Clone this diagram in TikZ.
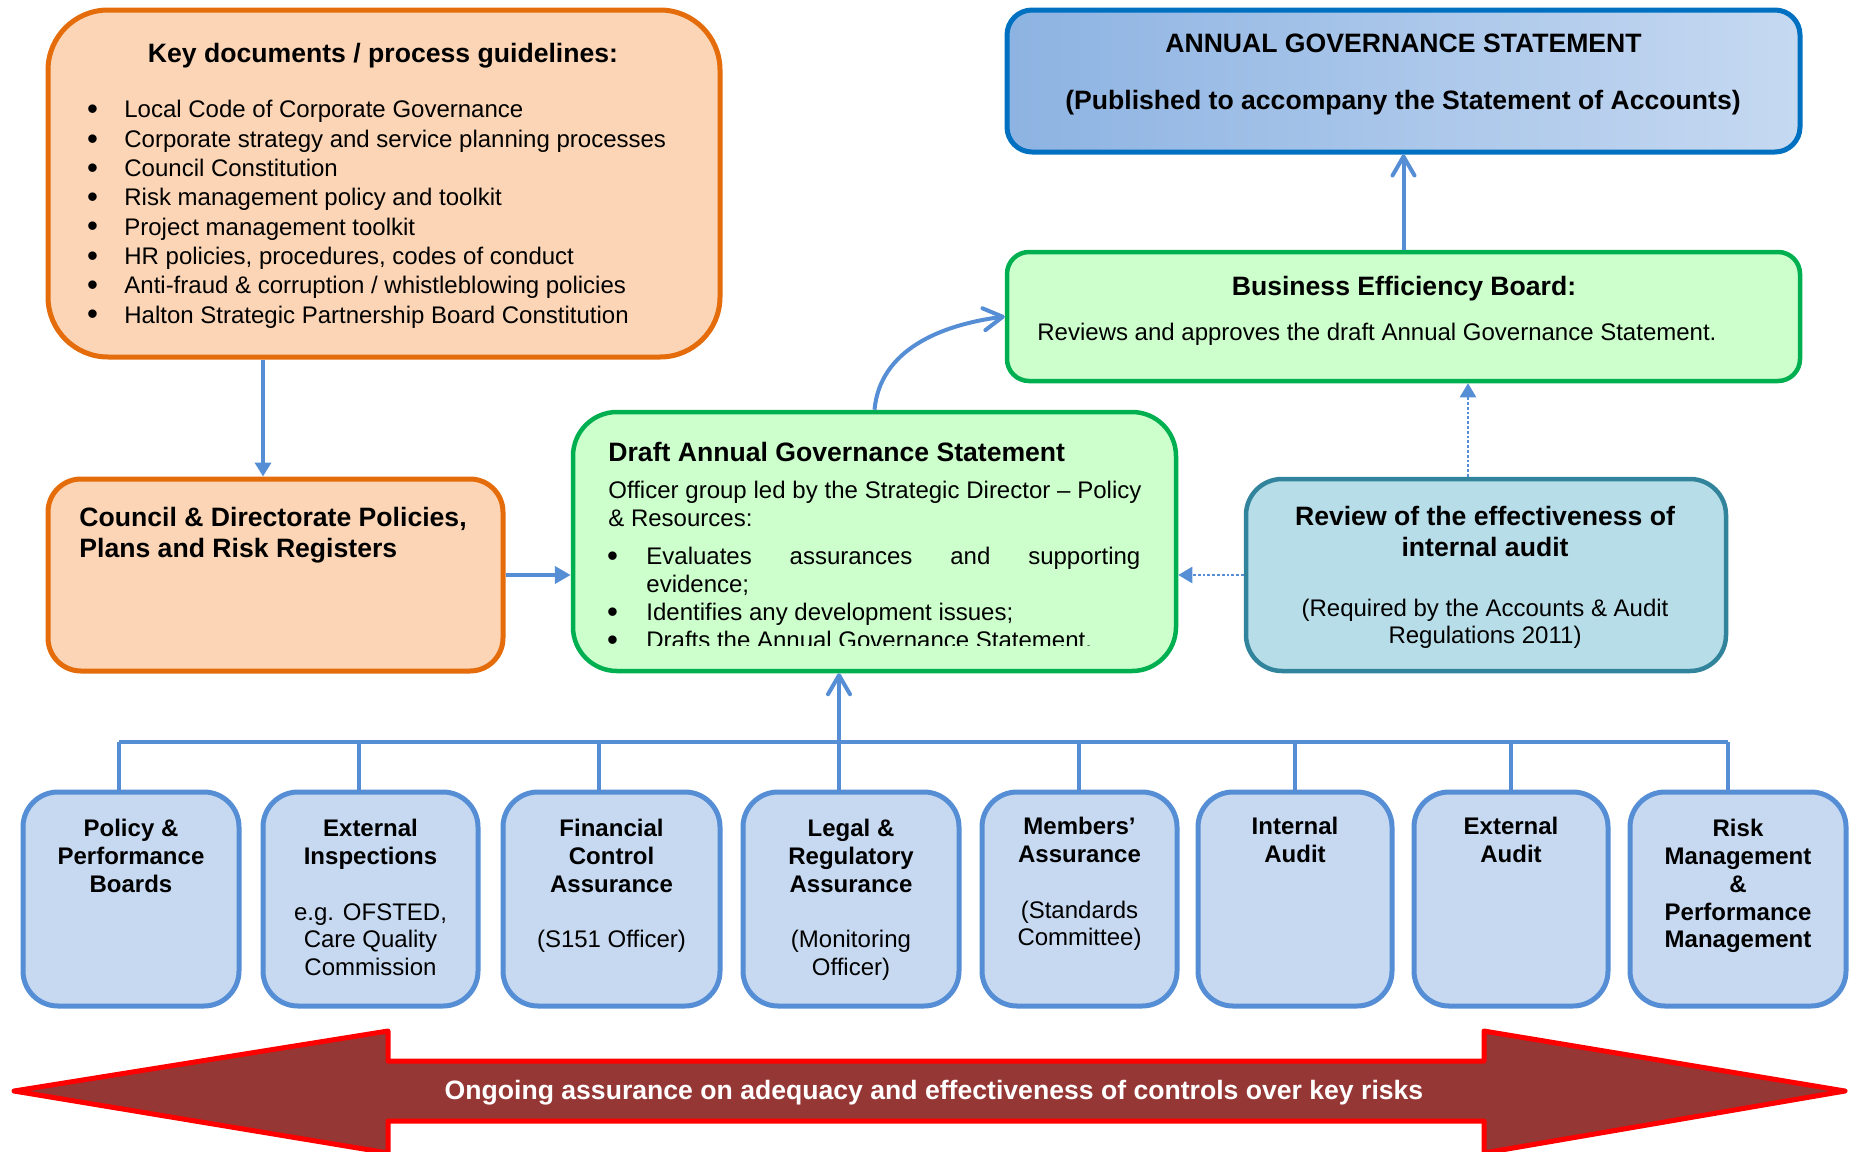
\documentclass[tikz,border=0pt]{standalone}
\usepackage{fontspec}
\setmainfont{Liberation Sans}
\usetikzlibrary{arrows.meta}
\definecolor{connblue}{HTML}{558ED5}
\definecolor{orgline}{HTML}{E46C0A}
\definecolor{orgfill}{HTML}{FBD5B5}
\definecolor{grnline}{HTML}{00B050}
\definecolor{grnfill}{HTML}{CCFFCC}
\definecolor{agsline}{HTML}{0070C0}
\definecolor{agsleft}{HTML}{8DB3E2}
\definecolor{agsright}{HTML}{C6D9F1}
\definecolor{revline}{HTML}{31849B}
\definecolor{revfill}{HTML}{B7DDE8}
\definecolor{botfill}{HTML}{C6D9F1}
\definecolor{arrfill}{HTML}{953735}
\definecolor{arrline}{HTML}{FF0000}
\newcommand\mybul[1]{\makebox[#1][l]{\hspace*{-0.6pt}\raisebox{-0.9pt}{\scalebox{1.3}{\textbullet}}}}
\newcommand\tp{\rule{0pt}{12pt}}
\begin{document}
\begin{tikzpicture}[x=0.5pt,y=-0.5pt,
  orangebox/.style={draw=orgline, fill=orgfill, line width=2.5pt, inner sep=0pt},
  greenbox/.style={draw=grnline, fill=grnfill, line width=2.25pt, inner sep=0pt},
  agsbox/.style={draw=agsline, left color=agsleft, right color=agsright, line width=2.5pt, inner sep=0pt},
  revbox/.style={draw=revline, fill=revfill, line width=2.25pt, inner sep=0pt},
  botbox/.style={draw=connblue, fill=botfill, line width=2.5pt, inner sep=0pt, minimum height=107pt, rounded corners=17.5pt},
  txt/.style={inner sep=0pt, font=\fontsize{12}{14}\selectfont},
  hd/.style={inner sep=0pt, font=\fontsize{13.3}{15.5}\selectfont\bfseries},
  bottxt/.style={txt, anchor=north, align=center, font=\fontsize{12}{13.85}\selectfont},
  link/.style={draw=connblue, line width=2pt},
  dotlink/.style={draw=connblue, line width=1.2pt, dash pattern=on 1.4pt off 1pt},
  barb/.style={-{Straight Barb[round,length=9.5pt,width=11pt]}},
  tri/.style={-{Triangle[length=7pt,width=8pt]}}
]
\useasboundingbox (0,0) rectangle (1851,1151);
\clip (0,0) rectangle (1851,1151);

% ---------- boxes ----------
\node[orangebox, minimum width=336pt, minimum height=173.5pt, rounded corners=30pt] (keydocs) at (384,183.5) {};
\node[agsbox, minimum width=396.5pt, minimum height=71pt, rounded corners=12.5pt] (ags) at (1403.5,81) {};
\node[greenbox, minimum width=396.5pt, minimum height=64.5pt, rounded corners=11pt] (beb) at (1403.5,316.5) {};
\node[greenbox, minimum width=301.5pt, minimum height=129.5pt, rounded corners=22pt] (draft) at (874.5,541.5) {};
\node[orangebox, minimum width=227.5pt, minimum height=96pt, rounded corners=16.5pt] (council) at (275.5,575) {};
\node[revbox, minimum width=240pt, minimum height=96pt, rounded corners=18pt] (review) at (1486,575) {};

\node[botbox, minimum width=108pt] (b1) at (131,899) {};
\node[botbox, minimum width=107.5pt] (b2) at (370.5,899) {};
\node[botbox, minimum width=108.5pt] (b3) at (611.5,899) {};
\node[botbox, minimum width=108pt] (b4) at (851,899) {};
\node[botbox, minimum width=97.5pt] (b5) at (1079.5,899) {};
\node[botbox, minimum width=97pt] (b6) at (1295,899) {};
\node[botbox, minimum width=97pt] (b7) at (1511,899) {};
\node[botbox, minimum width=108pt] (b8) at (1738,899) {};

% ---------- double arrow ----------
\draw[fill=arrfill, draw=arrline, line width=2.5pt, line join=round]
  (14,1091) -- (388,1031) -- (388,1061) -- (1484,1061) -- (1484,1031) -- (1845,1091)
  -- (1484,1153) -- (1484,1121) -- (388,1121) -- (388,1153) -- cycle;
\node[hd, anchor=north, text=white] (arrtext) at (934,1075.5) {\tp Ongoing assurance on adequacy and effectiveness of controls over key risks};

% ---------- texts ----------
\node[hd, anchor=north] (kdtitle) at (383,38.5) {\tp Key documents / process guidelines:};
\node[txt, anchor=north west, align=left, font=\fontsize{12}{14.65}\selectfont] (kdlist) at (88,93.5)
 {\tp\mybul{18pt}Local Code of Corporate Governance\\\mybul{18pt}Corporate strategy and service planning processes\\\mybul{18pt}Council Constitution\\\mybul{18pt}Risk management policy and toolkit\\\mybul{18pt}Project management toolkit\\\mybul{18pt}HR policies, procedures, codes of conduct\\\mybul{18pt}Anti-fraud \& corruption / whistleblowing policies\\\mybul{18pt}Halton Strategic Partnership Board Constitution};

\node[hd, anchor=north] (agst1) at (1403.5,28.5) {\tp ANNUAL GOVERNANCE STATEMENT};
\node[hd, anchor=north] (agst2) at (1403,85.5) {\tp(Published to accompany the Statement of Accounts)};

\node[hd, anchor=north] (bebt) at (1404,271.5) {\tp Business Efficiency Board:};
\node[txt, anchor=north west] (bebb) at (1037,316.5) {\tp Reviews and approves the draft Annual Governance Statement.};

\node[hd, anchor=north west] (draftt) at (608,437.5) {\tp Draft Annual Governance Statement};
\node[txt, anchor=north west, align=left] (draftb) at (608,474.5)
 {\tp\makebox[266.5pt][s]{Officer group led by the Strategic Director – Policy}\\\& Resources:};
\begin{scope}
\clip (590,540) rectangle (1160,645.5);
\node[txt, anchor=north west, align=left] (draftl) at (608,540.5)
 {\tp\mybul{19pt}\makebox[247pt][s]{Evaluates assurances and supporting}\\\hspace*{19pt}evidence;\\\mybul{19pt}Identifies any development issues;\\\mybul{19pt}Drafts the Annual Governance Statement.};
\end{scope}

\node[hd, anchor=north west, align=left] (councilt) at (79,502.5) {\tp Council \& Directorate Policies,\\Plans and Risk Registers};

\node[hd, anchor=north, align=center] (revt) at (1485,501.5) {\tp Review of the effectiveness of\\internal audit};
\node[txt, anchor=north, align=center, font=\fontsize{12}{13.5}\selectfont] (revs) at (1485,592.5) {\tp(Required by the Accounts \& Audit\\Regulations 2011)};

\node[bottxt] (b1t) at (131,812.5) {\tp\textbf{Policy \&}\\\textbf{Performance}\\\textbf{Boards}};
\node[bottxt] (b2t) at (370.5,812.5) {\tp\textbf{External}\\\textbf{Inspections}\\[13.85pt]e.g. OFSTED,\\Care Quality\\Commission};
\node[bottxt] (b3t) at (611.5,812.5) {\tp\textbf{Financial}\\\textbf{Control}\\\textbf{Assurance}\\[13.85pt](S151 Officer)};
\node[bottxt] (b4t) at (851,812.5) {\tp\textbf{Legal \&}\\\textbf{Regulatory}\\\textbf{Assurance}\\[13.85pt](Monitoring\\Officer)};
\node[bottxt] (b5t) at (1079.5,810.5) {\tp\textbf{Members’}\\\textbf{Assurance}\\[13.85pt](Standards\\Committee)};
\node[bottxt] (b6t) at (1295,810.5) {\tp\textbf{Internal}\\\textbf{Audit}};
\node[bottxt] (b7t) at (1511,810.5) {\tp\textbf{External}\\\textbf{Audit}};
\node[bottxt] (b8t) at (1738,812.5) {\tp\textbf{Risk}\\\textbf{Management}\\\textbf{\&}\\\textbf{Performance}\\\textbf{Management}};

% ---------- connectors ----------
\coordinate (kx) at (263,0);
\coordinate (rx) at (1468,0);
\draw[link, tri] (keydocs.south -| kx) -- (council.north -| kx);
\draw[link, -{Triangle[length=8pt,width=8.5pt]}] (council.east) -- (draft.west |- council.east);
\draw[link, barb] (beb.north) -- (ags.south);
\draw[link, barb] (draft.north) .. controls (880,350) and (940,325) .. (beb.west);
\draw[dotlink, tri] (review.west) -- (draft.east |- review.west);
\draw[dotlink, tri] (review.north -| rx) -- (beb.south -| rx);

\coordinate (d1) at (119,742);
\coordinate (d2) at (359,742);
\coordinate (d3) at (599,742);
\coordinate (d4) at (839,742);
\coordinate (d5) at (1079,742);
\coordinate (d6) at (1295,742);
\coordinate (d7) at (1511,742);
\coordinate (d8) at (1728,742);
\draw[link] (d1) -- (d8);
\draw[link] (b1.north -| d1) -- (d1);
\draw[link] (b2.north -| d2) -- (d2);
\draw[link] (b3.north -| d3) -- (d3);
\draw[link, barb] (b4.north -| d4) -- (draft.south -| d4);
\draw[link] (b5.north -| d5) -- (d5);
\draw[link] (b6.north -| d6) -- (d6);
\draw[link] (b7.north -| d7) -- (d7);
\draw[link] (b8.north -| d8) -- (d8);
\end{tikzpicture}
\end{document}
